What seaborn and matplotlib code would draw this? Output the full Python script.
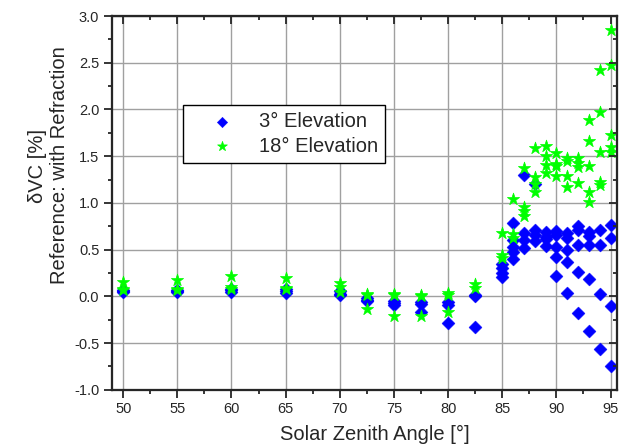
import numpy as np
import pandas as pd
import matplotlib
matplotlib.use("Agg")
import matplotlib.pyplot as plt
import seaborn as sns
from matplotlib.ticker import MultipleLocator, FormatStrFormatter, NullFormatter

# 3 deg elevation
sza_3 = [50, 50, 50, 55, 55, 55, 60, 60, 60, 65, 65, 65,
         70, 70, 70, 72.5, 72.5, 72.5, 75, 75, 75, 77.5, 77.5, 77.5,
         80, 80, 80, 82.5, 82.5, 82.5,
         85, 85, 85, 85, 86, 86, 86, 86, 86, 87, 87, 87, 87,
         88, 88, 88, 88, 89, 89, 89, 89,
         90, 90, 90, 90, 90, 91, 91, 91, 91, 91,
         92, 92, 92, 92, 92, 93, 93, 93, 93, 93,
         94, 94, 94, 94, 95, 95, 95, 95]
dvc_3 = [0.05, 0.06, 0.07, 0.05, 0.06, 0.07, 0.05, 0.07, 0.08, 0.04, 0.06, 0.08,
         0.01, 0.03, 0.06, -0.02, -0.04, -0.05, -0.05, -0.07, -0.09, -0.06, -0.08, -0.17,
         -0.06, -0.09, -0.29, 0.0, 0.02, -0.33,
         0.35, 0.30, 0.25, 0.21, 0.79, 0.60, 0.53, 0.48, 0.40, 1.30, 0.68, 0.60, 0.52,
         1.20, 0.71, 0.66, 0.59, 0.69, 0.64, 0.61, 0.54,
         0.70, 0.66, 0.53, 0.42, 0.22, 0.68, 0.62, 0.50, 0.37, 0.04,
         0.75, 0.71, 0.55, 0.26, -0.18, 0.69, 0.65, 0.55, 0.19, -0.37,
         0.71, 0.55, 0.03, -0.56, 0.76, 0.62, -0.10, -0.75]

# 18 deg elevation
sza_18 = [50, 50, 50, 55, 55, 55, 60, 60, 60, 65, 65, 65,
          70, 70, 70, 72.5, 72.5, 72.5, 75, 75, 75, 77.5, 77.5, 77.5,
          80, 80, 80, 82.5, 82.5,
          85, 85, 85, 86, 86, 86, 87, 87, 87, 87,
          88, 88, 88, 88, 89, 89, 89, 89, 90, 90, 90, 90,
          91, 91, 91, 91, 92, 92, 92, 92,
          93, 93, 93, 93, 93, 94, 94, 94, 94, 94, 95, 95, 95, 95, 95]
dvc_18 = [0.15, 0.08, 0.07, 0.18, 0.08, 0.07, 0.22, 0.10, 0.08, 0.20, 0.09, 0.08,
          0.14, 0.10, 0.05, 0.03, 0.02, -0.14, 0.03, 0.01, -0.21, 0.02, 0.0, -0.21,
          0.04, 0.01, -0.17, 0.13, 0.09,
          0.68, 0.44, 0.41, 1.04, 0.67, 0.62, 1.37, 0.96, 0.91, 0.86,
          1.59, 1.28, 1.20, 1.12, 1.61, 1.50, 1.41, 1.32, 1.53, 1.42, 1.39, 1.29,
          1.48, 1.45, 1.29, 1.17, 1.48, 1.43, 1.38, 1.21,
          1.89, 1.66, 1.39, 1.12, 1.01, 2.42, 1.97, 1.54, 1.22, 1.19, 2.85, 2.48, 1.73, 1.60, 1.55]

labels = ["3° Elevation", "18° Elevation"]

df3 = pd.DataFrame({"sza": sza_3, "dvc": dvc_3})
df18 = pd.DataFrame({"sza": sza_18, "dvc": dvc_18})

sns.set_style("ticks")
plt.rcParams["font.family"] = ["Liberation Sans", "DejaVu Sans"]

fig = plt.figure(figsize=(6.21, 4.45), dpi=100)
ax = fig.add_axes([0.18, 0.124, 0.8136, 0.84])

ax.grid(True, which="major", color="#a0a0a0", lw=1.0)
ax.set_axisbelow(True)

sns.scatterplot(data=df3, x="sza", y="dvc", color="#0000ff", marker="D",
                s=44, linewidth=0.3, edgecolor="#0000ff", label=labels[0], ax=ax, zorder=3)
sns.scatterplot(data=df18, x="sza", y="dvc", color="#00ff00", marker="*",
                s=85, linewidth=0.5, edgecolor="#00ff00", label=labels[1], ax=ax, zorder=4)
handles, _ = ax.get_legend_handles_labels()
ax.get_legend().remove()

xlim = (48.95, 95.6)
ylim = (-1.0, 3.0)
ax.set_xlim(*xlim)
ax.set_ylim(*ylim)
ax.xaxis.set_major_locator(MultipleLocator(5))
ax.xaxis.set_minor_locator(MultipleLocator(2.5))
ax.yaxis.set_major_locator(MultipleLocator(0.5))
ax.yaxis.set_minor_locator(MultipleLocator(0.25))
ax.yaxis.set_major_formatter(FormatStrFormatter("%.1f"))

for sp in ax.spines.values():
    sp.set_visible(True)
    sp.set_linewidth(1.5)
    sp.set_color("black")

ax.tick_params(which="both", direction="out", width=1.3, labelsize=10.5, pad=3)
ax.tick_params(which="major", length=6)
ax.tick_params(which="minor", length=3)

# inward ticks on top and right
axt = ax.twiny()
axt.set_xlim(*xlim)
axt.xaxis.set_major_locator(MultipleLocator(5))
axt.xaxis.set_minor_locator(MultipleLocator(2.5))
axt.xaxis.set_major_formatter(NullFormatter())
axt.tick_params(which="both", direction="in", width=1.3)
axt.tick_params(which="major", length=6)
axt.tick_params(which="minor", length=3)
axr = ax.twinx()
axr.set_ylim(*ylim)
axr.yaxis.set_major_locator(MultipleLocator(0.5))
axr.yaxis.set_minor_locator(MultipleLocator(0.25))
axr.yaxis.set_major_formatter(NullFormatter())
axr.tick_params(which="both", direction="in", width=1.3)
axr.tick_params(which="major", length=6)
axr.tick_params(which="minor", length=3)
for a in (axt, axr):
    for sp in a.spines.values():
        sp.set_linewidth(1.5)

ax.set_xlabel("Solar Zenith Angle [°]", fontsize=14.5)
ax.xaxis.set_label_coords(0.521, -0.095)
ax.set_ylabel("δVC [%]\nReference: with Refraction", fontsize=14.5)
ax.yaxis.set_label_coords(-0.085, 0.6)

leg = axr.legend(handles, labels, loc="upper left", bbox_to_anchor=(0.141, 0.762),
                 borderaxespad=0, fontsize=14.5, frameon=True, fancybox=False,
                 edgecolor="black", handletextpad=0.2, borderpad=0.35,
                 labelspacing=0.28, handlelength=3.2, markerscale=0.8, framealpha=1)
leg.get_frame().set_linewidth(1.0)

fig.savefig("out.png", dpi=100)
